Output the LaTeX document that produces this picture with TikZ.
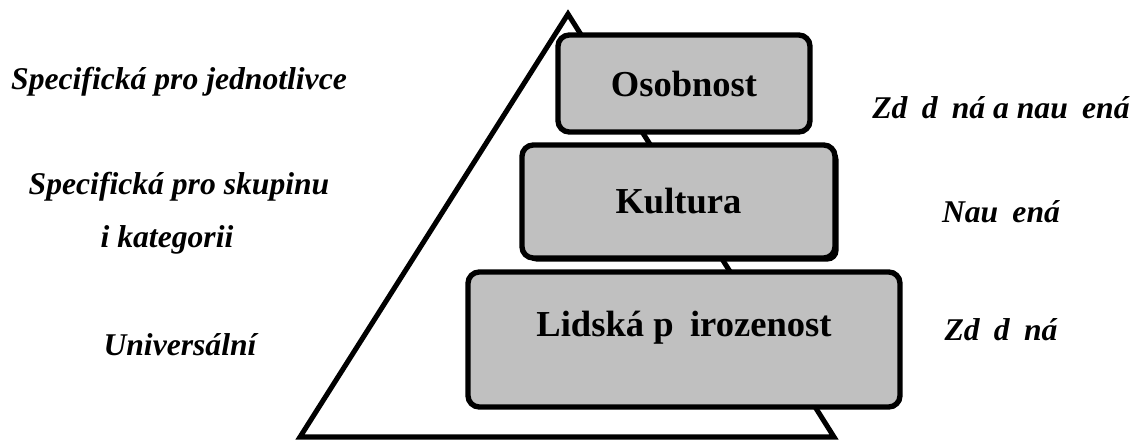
\documentclass[tikz,border=0pt]{standalone}
\usepackage{fontspec}
\setmainfont{Liberation Serif}
\usepackage{tikz}
\usetikzlibrary{calc,positioning,shapes,shadows,backgrounds}
\definecolor{boxgray}{RGB}{192,192,192}
\newcommand{\mis}{\hspace{0.45em}}
\tikzset{
	layer/.style={draw,line width=3.8pt,rounded corners=8pt,fill=boxgray,inner sep=0pt},
	layertext/.style={font=\bfseries\fontsize{26}{30}\selectfont},
	side/.style={font=\bfseries\itshape\fontsize{22.5}{27}\selectfont,align=center}
}

\begin{document}
\begin{tikzpicture}[x=0.025cm,y=-0.025cm]
		\useasboundingbox (0,0) rectangle (1135,444);
		\coordinate (top) at (568,14);
		\coordinate (bl) at (300,437);
		\coordinate (br) at (834,437);
		\draw[line width=3.6pt] (top) -- (br) -- (bl) -- cycle;
		\node(osob) [layer,minimum width=252*0.025cm,minimum height=97*0.025cm] at (684,83.5) {};
		\node at (osob.center) [layertext] {Osobnost};
		\node(kult) [layer,drop shadow={shadow xshift=2.6pt,shadow yshift=-2.6pt,fill=black,opacity=1},minimum width=313*0.025cm,minimum height=113*0.025cm] at (678.5,201.5) {};
		\node at (kult.center) [layertext] {Kultura};
		\node(lids) [layer,minimum width=432*0.025cm,minimum height=135*0.025cm] at (684,339.5) {};
		\node at ([yshift=0.3cm]lids.center) [layertext] {Lidská p\mis irozenost};
		% left side
		\node(jedn) [side] at (179,82) {Specifická pro jednotlivce};
		\node(skup) [side] at (179,187) {Specifická pro skupinu};
		\node(kat) [side] at (167,240) {i kategorii};
		\node(univ) [side] at (180,345) {Universální};
		% right side
		\node(zdn) [side] at (1001,108) {Zd\mis d\mis ná a nau\mis ená};
		\node(nau) [side] at (1001,212) {Nau\mis ená};
		\node(zd) [side] at (1001,330) {Zd\mis d\mis ná};
	\end{tikzpicture}
\end{document}
